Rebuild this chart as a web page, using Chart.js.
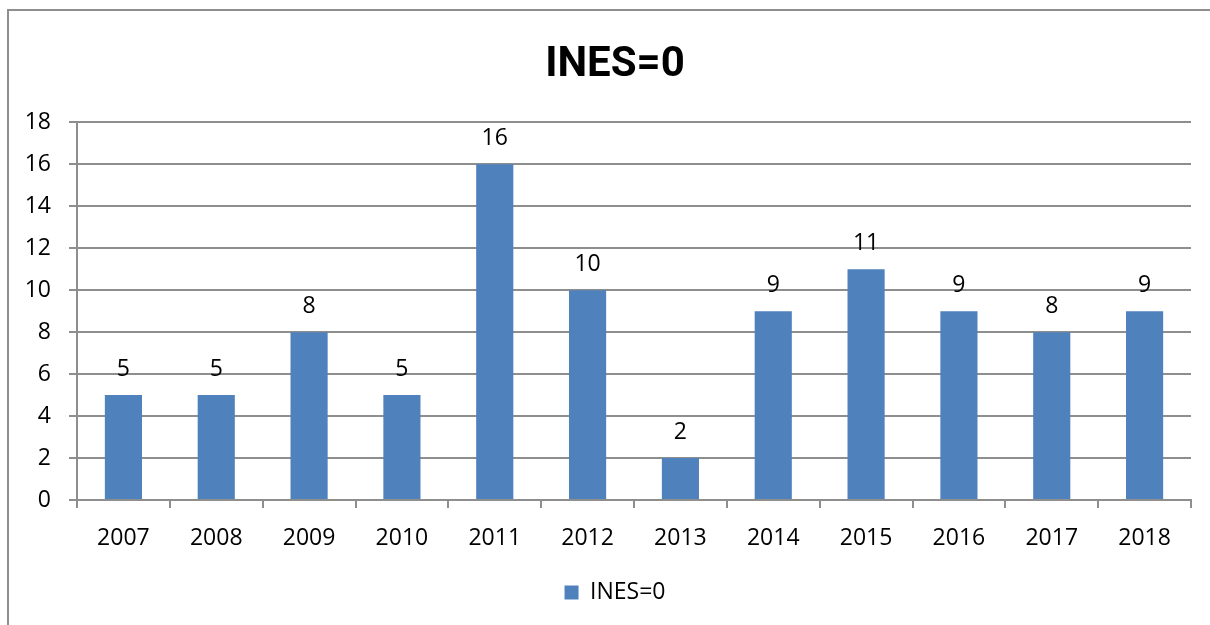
<!DOCTYPE html>
<html>
<head>
<meta charset="utf-8">
<script src="https://cdn.jsdelivr.net/npm/chart.js@4"></script>
<style>
    html, body { margin: 0; padding: 0; background: #fff; }
    #wrap { position: relative; width: 1210px; height: 625px; overflow: hidden; }
    #frame {
        position: absolute; left: 7px; top: 9px; right: 0; bottom: 0;
        border-left: 2px solid #8e8e8e; border-top: 2px solid #8e8e8e;
        pointer-events: none;
    }
</style>
</head>
<body>
<div id="wrap">
    <canvas id="inesChart" width="1230" height="625"></canvas>
    <div id="frame"></div>
</div>
<script>
const years = ['2007', '2008', '2009', '2010', '2011', '2012', '2013', '2014', '2015', '2016', '2017', '2018'];
const ines0Counts = [5, 5, 8, 5, 16, 10, 2, 9, 11, 9, 8, 9];
const yTicks = [0, 2, 4, 6, 8, 10, 12, 14, 16, 18];

const labelFont = "'Open Sans', 'Liberation Sans', sans-serif";

// Draw the value above each bar
const valueLabels = {
    id: 'valueLabels',
    afterDatasetsDraw(chart) {
        const ctx = chart.ctx;
        ctx.save();
        ctx.font = '23px ' + labelFont;
        ctx.fillStyle = '#000';
        ctx.textAlign = 'center';
        ctx.textBaseline = 'alphabetic';
        chart.getDatasetMeta(0).data.forEach((bar, i) => {
            ctx.fillText(String(ines0Counts[i]), bar.x, bar.y - 19);
        });
        ctx.restore();
    }
};

new Chart(document.getElementById('inesChart'), {
    type: 'bar',
    data: {
        labels: years,
        datasets: [{
            label: 'INES=0',
            data: ines0Counts,
            backgroundColor: '#4F81BD',
            borderWidth: 0,
            barPercentage: 0.4,
            categoryPercentage: 1.0,
            yAxisID: 'y'
        }]
    },
    options: {
        responsive: false,
        animation: false,
        layout: { padding: { left: 0, right: 0, top: 0, bottom: 11 } },
        plugins: {
            title: {
                display: true,
                text: 'INES=0',
                color: '#000',
                font: { family: "'Liberation Sans Narrow', Roboto, sans-serif", size: 42, weight: 'bold', lineHeight: 1.2 },
                padding: { top: 40, bottom: 32 }
            },
            legend: {
                position: 'bottom',
                labels: {
                    color: '#000',
                    boxWidth: 14,
                    boxHeight: 14,
                    padding: 10,
                    font: { family: labelFont, size: 23 }
                }
            },
            tooltip: { enabled: false }
        },
        scales: {
            x: {
                grid: {
                    offset: true,
                    drawOnChartArea: false,
                    color: '#8e8e8e',
                    lineWidth: 2,
                    tickLength: 8
                },
                border: { color: '#8e8e8e', width: 2 },
                ticks: {
                    color: '#000',
                    padding: 17,
                    maxRotation: 0,
                    font: { family: labelFont, size: 23 }
                },
                afterFit(scale) { scale.height = 71; }
            },
            y: {
                min: 0,
                max: 18,
                afterBuildTicks(scale) {
                    scale.ticks = yTicks.map(v => ({ value: v }));
                },
                grid: {
                    color: '#8e8e8e',
                    lineWidth: 2,
                    tickLength: 8
                },
                border: { color: '#8e8e8e', width: 2 },
                ticks: {
                    color: '#000',
                    padding: 18,
                    font: { family: labelFont, size: 23 }
                },
                afterFit(scale) { scale.width = 77; }
            },
            // empty right-hand spacer so the plot ends where the original does
            gap: {
                type: 'linear',
                position: 'right',
                grid: { display: false },
                border: { display: false },
                ticks: { display: false },
                afterFit(scale) { scale.width = 39; }
            }
        }
    },
    plugins: [valueLabels]
});
</script>
</body>
</html>
